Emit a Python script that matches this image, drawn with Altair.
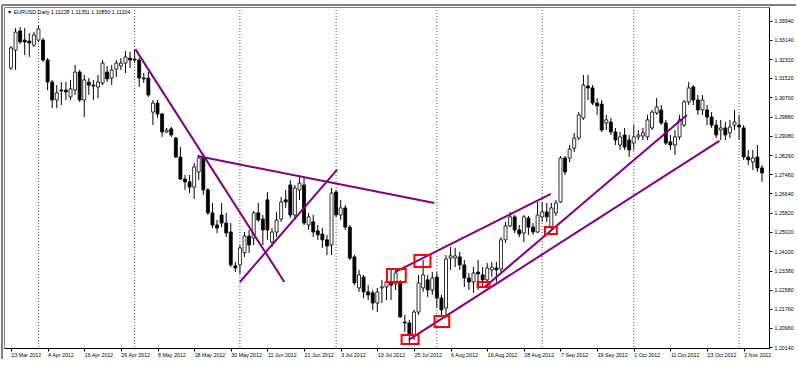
import altair as alt
import pandas as pd

# Daily EURUSD candles (bar index 0 = 23 Mar 2012), prices
open_ = [1.3194, 1.3270, 1.3351, 1.3312, 1.3308, 1.3291, 1.3312, 1.3312, 1.3228, 1.3135,
         1.3059, 1.3101, 1.3101, 1.3072, 1.3101, 1.3177, 1.3059, 1.3135, 1.3122, 1.3114,
         1.3131, 1.3177, 1.3152, 1.3190, 1.3203, 1.3215, 1.3236, 1.3232, 1.3228, 1.3152,
         1.3152, 1.3008, 1.3046, 1.3000, 1.2924, 1.2937, 1.2898, 1.2818, 1.2725, 1.2713,
         1.2691, 1.2755, 1.2818, 1.2679, 1.2582, 1.2531, 1.2573, 1.2539, 1.2501, 1.2358,
         1.2362, 1.2413, 1.2484, 1.2476, 1.2582, 1.2556, 1.2637, 1.2459, 1.2501, 1.2556,
         1.2637, 1.2700, 1.2573, 1.2679, 1.2700, 1.2531, 1.2544, 1.2506, 1.2493, 1.2468,
         1.2446, 1.2670, 1.2573, 1.2603, 1.2522, 1.2396, 1.2265, 1.2311, 1.2248, 1.2244,
         1.2201, 1.2265, 1.2269, 1.2290, 1.2282, 1.2290, 1.2121, 1.2117, 1.2066, 1.2163,
         1.2265, 1.2299, 1.2256, 1.2311, 1.2222, 1.2180, 1.2391, 1.2391, 1.2396, 1.2362,
         1.2307, 1.2290, 1.2332, 1.2320, 1.2299, 1.2341, 1.2349, 1.2345, 1.2468, 1.2527,
         1.2565, 1.2510, 1.2497, 1.2560, 1.2522, 1.2501, 1.2565, 1.2586, 1.2522, 1.2582,
         1.2628, 1.2814, 1.2814, 1.2856, 1.2898, 1.2983, 1.3118, 1.3110, 1.3046, 1.3042,
         1.2962, 1.2966, 1.2924, 1.2869, 1.2911, 1.2890, 1.2877, 1.2903, 1.2907, 1.2903,
         1.2941, 1.3004, 1.3017, 1.2962, 1.2882, 1.2869, 1.2903, 1.2953, 1.3051, 1.3114,
         1.3059, 1.3017, 1.3017, 1.2987, 1.2953, 1.2932, 1.2941, 1.2920, 1.2953, 1.2953,
         1.2941, 1.2818, 1.2797, 1.2818, 1.2772]
high = [1.3287, 1.3363, 1.3367, 1.3363, 1.3342, 1.3346, 1.3376, 1.3321, 1.3236, 1.3144,
        1.3122, 1.3135, 1.3135, 1.3144, 1.3207, 1.3186, 1.3165, 1.3152, 1.3144, 1.3165,
        1.3228, 1.3203, 1.3207, 1.3228, 1.3236, 1.3266, 1.3262, 1.3270, 1.3236, 1.3173,
        1.3177, 1.3059, 1.3059, 1.3004, 1.2941, 1.2945, 1.2903, 1.2860, 1.2742, 1.2742,
        1.2793, 1.2827, 1.2827, 1.2687, 1.2624, 1.2552, 1.2624, 1.2582, 1.2539, 1.2375,
        1.2446, 1.2501, 1.2510, 1.2590, 1.2624, 1.2573, 1.2670, 1.2518, 1.2586, 1.2649,
        1.2679, 1.2721, 1.2700, 1.2742, 1.2729, 1.2582, 1.2573, 1.2531, 1.2518, 1.2489,
        1.2687, 1.2679, 1.2637, 1.2615, 1.2531, 1.2404, 1.2341, 1.2320, 1.2277, 1.2256,
        1.2265, 1.2299, 1.2320, 1.2341, 1.2341, 1.2299, 1.2151, 1.2130, 1.2172, 1.2320,
        1.2383, 1.2320, 1.2332, 1.2332, 1.2235, 1.2404, 1.2438, 1.2434, 1.2417, 1.2383,
        1.2328, 1.2353, 1.2383, 1.2353, 1.2370, 1.2375, 1.2375, 1.2480, 1.2544, 1.2586,
        1.2573, 1.2531, 1.2573, 1.2569, 1.2539, 1.2628, 1.2628, 1.2624, 1.2624, 1.2637,
        1.2822, 1.2822, 1.2869, 1.2920, 1.3008, 1.3165, 1.3165, 1.3122, 1.3067, 1.3059,
        1.2996, 1.2983, 1.2941, 1.2924, 1.2941, 1.2911, 1.2953, 1.2932, 1.2941, 1.2996,
        1.3017, 1.3067, 1.3038, 1.2975, 1.2911, 1.2932, 1.2996, 1.3059, 1.3135, 1.3122,
        1.3080, 1.3080, 1.3038, 1.3008, 1.2975, 1.2975, 1.2966, 1.2975, 1.3017, 1.2996,
        1.2953, 1.2848, 1.2848, 1.2869, 1.2784]
low = [1.3186, 1.3186, 1.3296, 1.3249, 1.3241, 1.3283, 1.3304, 1.3220, 1.3101, 1.3025,
       1.3025, 1.3038, 1.3059, 1.3059, 1.3080, 1.3051, 1.2987, 1.3080, 1.3059, 1.3067,
       1.3122, 1.3135, 1.3122, 1.3156, 1.3186, 1.3173, 1.3194, 1.3215, 1.3114, 1.3131,
       1.3072, 1.2953, 1.2983, 1.2903, 1.2920, 1.2903, 1.2814, 1.2721, 1.2679, 1.2666,
       1.2641, 1.2721, 1.2658, 1.2573, 1.2518, 1.2497, 1.2522, 1.2480, 1.2353, 1.2332,
       1.2324, 1.2396, 1.2413, 1.2446, 1.2544, 1.2446, 1.2468, 1.2438, 1.2480, 1.2544,
       1.2603, 1.2560, 1.2552, 1.2637, 1.2531, 1.2510, 1.2480, 1.2468, 1.2434, 1.2404,
       1.2404, 1.2565, 1.2552, 1.2510, 1.2383, 1.2277, 1.2248, 1.2222, 1.2214, 1.2172,
       1.2163, 1.2201, 1.2214, 1.2214, 1.2256, 1.2138, 1.2079, 1.2032, 1.2045, 1.2151,
       1.2248, 1.2227, 1.2235, 1.2180, 1.2142, 1.2138, 1.2341, 1.2353, 1.2341, 1.2269,
       1.2256, 1.2244, 1.2256, 1.2269, 1.2286, 1.2311, 1.2290, 1.2332, 1.2455, 1.2522,
       1.2497, 1.2480, 1.2459, 1.2489, 1.2489, 1.2497, 1.2544, 1.2544, 1.2506, 1.2569,
       1.2624, 1.2742, 1.2797, 1.2839, 1.2890, 1.2975, 1.3059, 1.3038, 1.2996, 1.2924,
       1.2932, 1.2911, 1.2869, 1.2848, 1.2848, 1.2818, 1.2848, 1.2890, 1.2890, 1.2890,
       1.2932, 1.2996, 1.2953, 1.2869, 1.2848, 1.2827, 1.2890, 1.2945, 1.3038, 1.3038,
       1.2996, 1.2996, 1.2953, 1.2941, 1.2898, 1.2890, 1.2890, 1.2898, 1.2932, 1.2890,
       1.2806, 1.2784, 1.2763, 1.2755, 1.2713]
close = [1.3279, 1.3346, 1.3304, 1.3304, 1.3300, 1.3334, 1.3359, 1.3228, 1.3135, 1.3059,
         1.3089, 1.3097, 1.3093, 1.3106, 1.3177, 1.3059, 1.3144, 1.3122, 1.3118, 1.3135,
         1.3215, 1.3148, 1.3186, 1.3215, 1.3215, 1.3241, 1.3228, 1.3228, 1.3152, 1.3148,
         1.3080, 1.3046, 1.3000, 1.2924, 1.2932, 1.2911, 1.2818, 1.2725, 1.2713, 1.2691,
         1.2776, 1.2814, 1.2679, 1.2582, 1.2531, 1.2518, 1.2539, 1.2497, 1.2362, 1.2349,
         1.2434, 1.2484, 1.2446, 1.2582, 1.2552, 1.2510, 1.2510, 1.2501, 1.2552, 1.2628,
         1.2628, 1.2573, 1.2687, 1.2708, 1.2539, 1.2565, 1.2501, 1.2489, 1.2468, 1.2442,
         1.2666, 1.2573, 1.2603, 1.2522, 1.2391, 1.2286, 1.2320, 1.2248, 1.2235, 1.2201,
         1.2248, 1.2269, 1.2290, 1.2277, 1.2328, 1.2142, 1.2117, 1.2066, 1.2163, 1.2286,
         1.2320, 1.2256, 1.2307, 1.2222, 1.2172, 1.2387, 1.2400, 1.2400, 1.2362, 1.2307,
         1.2290, 1.2328, 1.2324, 1.2299, 1.2349, 1.2353, 1.2341, 1.2468, 1.2527, 1.2565,
         1.2510, 1.2493, 1.2565, 1.2522, 1.2501, 1.2573, 1.2586, 1.2565, 1.2603, 1.2624,
         1.2814, 1.2755, 1.2852, 1.2898, 1.2996, 1.3122, 1.3110, 1.3046, 1.3034, 1.2932,
         1.2975, 1.2924, 1.2890, 1.2903, 1.2860, 1.2848, 1.2903, 1.2911, 1.2920, 1.2975,
         1.3008, 1.3029, 1.2962, 1.2877, 1.2869, 1.2903, 1.2975, 1.3051, 1.3110, 1.3059,
         1.3017, 1.3059, 1.2987, 1.2953, 1.2911, 1.2941, 1.2911, 1.2945, 1.2966, 1.2945,
         1.2818, 1.2806, 1.2814, 1.2772, 1.2751]

# time axis labels (every 8th bar) and first bars of each month
x_labels = ["23 Mar 2012", "4 Apr 2012", "16 Apr 2012", "26 Apr 2012", "8 May 2012",
            "18 May 2012", "30 May 2012", "11 Jun 2012", "21 Jun 2012", "3 Jul 2012",
            "13 Jul 2012", "25 Jul 2012", "6 Aug 2012", "16 Aug 2012", "28 Aug 2012",
            "7 Sep 2012", "19 Sep 2012", "1 Oct 2012", "11 Oct 2012", "23 Oct 2012",
            "2 Nov 2012"]
x_label_bars = [0, 8, 16, 24, 32, 40, 48, 56, 64, 72, 80, 88, 96, 104, 112, 120, 128,
                136, 144, 152, 160]
month_start_bars = [6, 27, 50, 71, 93, 116, 136, 159]

y_ticks = [1.33940, 1.33140, 1.32320, 1.31520, 1.30700, 1.29880, 1.29080, 1.28260,
           1.27460, 1.26640, 1.25820, 1.25020, 1.24200, 1.23380, 1.22580, 1.21760,
           1.20960, 1.20140]

# hand-drawn trend lines (bar index / price at both ends)
line_bar1 = [27.16, 40.73, 50.0, 83.84, 103.45, 86.85]
line_price1 = [1.3274, 1.2822, 1.2290, 1.2332, 1.2269, 1.2045]
line_bar2 = [59.7, 92.46, 71.23, 117.9, 147.6, 154.7]
line_price2 = [1.2290, 1.2624, 1.2765, 1.2662, 1.2996, 1.2886]

# red highlight boxes
box_bar1 = [82.1, 88.1, 85.3, 92.5, 101.9, 116.6]
box_bar2 = [86.2, 91.6, 89.0, 95.7, 104.5, 119.2]
box_price1 = [1.2345, 1.2404, 1.2066, 1.2146, 1.2290, 1.2522]
box_price2 = [1.2290, 1.2353, 1.2028, 1.2100, 1.2269, 1.2493]

header = "▼ EURUSD,Daily  1.11228 1.11351 1.10850 1.11104"

FONT = "Liberation Sans"
FS = 5.3

candles = pd.DataFrame({
    "bar": list(range(len(open_))),
    "open": open_, "high": high, "low": low, "close": close,
})
candles["body_lo"] = candles[["open", "close"]].min(axis=1)
candles["body_hi"] = candles[["open", "close"]].max(axis=1)
candles["dir"] = ["up" if c >= o else "down" for o, c in zip(open_, close)]

months = pd.DataFrame({"bar": month_start_bars})
lines = pd.DataFrame({"b1": line_bar1, "p1": line_price1, "b2": line_bar2, "p2": line_price2})
boxes = pd.DataFrame({"b1": box_bar1, "b2": box_bar2, "p1": box_price1, "p2": box_price2})

xs = alt.Scale(domain=[-0.43, 164.44], nice=False, zero=False)
ys = alt.Scale(domain=[1.2011, 1.3452], nice=False, zero=False)

label_arr = "[" + ",".join("'" + s + "'" for s in x_labels) + "]"

x_axis = alt.Axis(values=x_label_bars, labelExpr=label_arr + "[round(datum.value/8)]",
                  labelAlign="left", labelPadding=1, labelFontSize=FS, labelFont=FONT,
                  labelColor="#000000", tickSize=3, tickColor="#000000",
                  domainColor="#000000", grid=False, title=None, labelFlush=False,
                  labelOverlap=False, labelBaseline="top", orient="bottom")
y_axis = alt.Axis(values=y_ticks, format=".5f", orient="right", labelFontSize=FS,
                  labelFont=FONT, labelColor="#000000", tickSize=3, tickColor="#000000",
                  domainColor="#000000", grid=False, title=None, labelPadding=2,
                  labelOverlap=False, labelFlush=False)


def X(field):
    return alt.X(field, type="quantitative", scale=xs, axis=x_axis)


def Y(field):
    return alt.Y(field, type="quantitative", scale=ys, axis=y_axis)


wicks = alt.Chart(candles).mark_rule(color="#000000", strokeWidth=1).encode(
    x=X("bar"), y=Y("low"), y2="high",
)

bodies = alt.Chart(candles).mark_bar(size=3, stroke="#000000", strokeWidth=0.8).encode(
    x=X("bar"), y=Y("body_lo"), y2="body_hi",
    fill=alt.Fill("dir:N", scale=alt.Scale(domain=["up", "down"], range=["#ffffff", "#000000"]),
                  legend=None),
)

month_rules = alt.Chart(months).mark_rule(color="#555555", strokeWidth=1, strokeDash=[1, 2]).encode(
    x=X("bar"),
)

trend = alt.Chart(lines).mark_rule(color="#800080", strokeWidth=2).encode(
    x=X("b1"), x2="b2", y=Y("p1"), y2="p2",
)

rects = alt.Chart(boxes).mark_rect(fillOpacity=0, stroke="#ff0000", strokeWidth=2).encode(
    x=X("b1"), x2="b2", y=Y("p1"), y2="p2",
)

# outer window frame (second line above and left of the plot border)
frame_top = alt.Chart(months).mark_rule(color="#808080", strokeWidth=1).encode(
    x=alt.value(-2), x2=alt.value(792), y=alt.value(-2), y2=alt.value(-2)
)
frame_left = alt.Chart(months).mark_rule(color="#808080", strokeWidth=1).encode(
    x=alt.value(-2), x2=alt.value(-2), y=alt.value(-2), y2=alt.value(352)
)

title = alt.Chart(pd.DataFrame({"t": [header]})).mark_text(
    align="left", baseline="middle", fontSize=FS, font=FONT, color="#000000"
).encode(x=alt.value(3), y=alt.value(5), text="t:N")

chart = alt.layer(wicks, month_rules, bodies, trend, rects, frame_top, frame_left, title).properties(
    width=765, height=341,
    autosize=alt.AutoSizeParams(type="none"),
    padding={"left": 4, "top": 7, "right": 29, "bottom": 17},
    background="#ffffff",
).configure_view(stroke="#808080", strokeWidth=1)

chart.save("out.html", embed_options={"renderer": "svg", "actions": False})
